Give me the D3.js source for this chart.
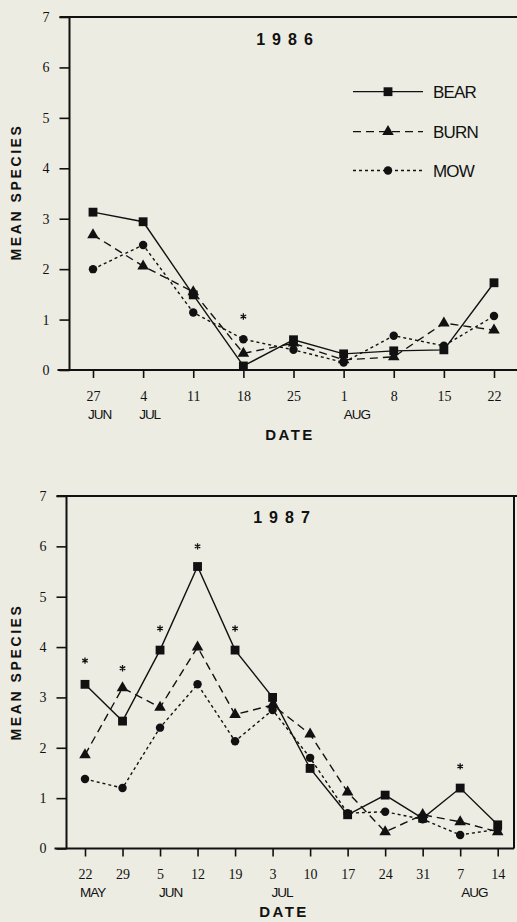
<!DOCTYPE html>
<html>
<head>
<meta charset="utf-8">
<script src="https://cdn.jsdelivr.net/npm/d3@7"></script>
<style>
  html, body { margin: 0; padding: 0; background: #ecece2; }
  svg { display: block; }
</style>
</head>
<body>
<svg id="chart" width="517" height="922"></svg>
<script>
// ---- Data ----
const yTicks = [0, 1, 2, 3, 4, 5, 6, 7];

const dates1986 = ["27", "4", "11", "18", "25", "1", "8", "15", "22"];
const bear1986 = [3.13, 2.94, 1.49, 0.08, 0.60, 0.32, 0.38, 0.40, 1.73];
const burn1986 = [2.68, 2.06, 1.55, 0.33, 0.53, 0.20, 0.26, 0.93, 0.79];
const mow1986  = [2.00, 2.48, 1.14, 0.61, 0.40, 0.15, 0.68, 0.48, 1.07];
const monthDates1986 = ["27", "4", "1"];
const monthNames1986 = ["JUN", "JUL", "AUG"];
const starDates1986 = ["18"];
const starValues1986 = [1.06];

const dates1987 = ["22", "29", "5", "12", "19", "3", "10", "17", "24", "31", "7", "14"];
const bear1987 = [3.26, 2.53, 3.94, 5.60, 3.94, 3.00, 1.59, 0.67, 1.06, 0.60, 1.20, 0.47];
const burn1987 = [1.86, 3.19, 2.80, 4.00, 2.66, 2.85, 2.27, 1.12, 0.33, 0.67, 0.53, 0.33];
const mow1987  = [1.38, 1.20, 2.40, 3.26, 2.13, 2.75, 1.80, 0.70, 0.73, 0.58, 0.27, 0.38];
const monthDates1987 = ["22", "5", "3", "7"];
const monthNames1987 = ["MAY", "JUN", "JUL", "AUG"];
const starDates1987 = ["22", "29", "5", "12", "19", "7"];
const starValues1987 = [3.73, 3.58, 4.37, 6.00, 4.37, 1.63];

const seriesNames = ["BEAR", "BURN", "MOW"];

// ---- Styles ----
const ink = "#111";
const seriesStyle = {
  BEAR: { dash: null, symbol: d3.symbolSquare, size: 78 },
  BURN: { dash: "8,5", symbol: d3.symbolTriangle, size: 58 },
  MOW:  { dash: "3,3", symbol: d3.symbolCircle, size: 56 }
};

// small six-armed asterisk path
function asteriskPath(r) {
  let s = "";
  for (let k = 0; k < 3; k++) {
    const a = Math.PI / 2 + k * Math.PI / 3;
    const dx = r * Math.cos(a), dy = r * Math.sin(a);
    s += `M${-dx},${-dy}L${dx},${dy}`;
  }
  return s;
}

const svg = d3.select("#chart");

function drawPanel(p) {
  const g = svg.append("g");
  const x = d3.scalePoint().domain(p.dates).range([p.x0, p.x1]);
  const y = d3.scaleLinear().domain([0, 7]).range([p.yBottom, p.yTop]);

  // frame
  g.append("line").attr("x1", p.axisX).attr("x2", p.axisX)
    .attr("y1", p.yTop).attr("y2", p.yBottom)
    .attr("stroke", ink).attr("stroke-width", 2);
  g.append("line").attr("x1", p.axisX - 10).attr("x2", 517)
    .attr("y1", p.yTop).attr("y2", p.yTop)
    .attr("stroke", ink).attr("stroke-width", 2);
  g.append("line").attr("x1", p.axisX - 12).attr("x2", p.rightX)
    .attr("y1", p.yBottom).attr("y2", p.yBottom)
    .attr("stroke", ink).attr("stroke-width", 2);
  if (p.rightBorder) {
    g.append("line").attr("x1", p.rightX).attr("x2", p.rightX)
      .attr("y1", p.yTop).attr("y2", p.yBottom)
      .attr("stroke", ink).attr("stroke-width", 2);
  }

  // y axis
  const yAxis = d3.axisLeft(y).tickValues(yTicks).tickSize(10).tickPadding(10)
    .tickFormat(d3.format("d"));
  const ya = g.append("g").attr("transform", `translate(${p.axisX},0)`).call(yAxis);
  ya.select(".domain").remove();
  ya.selectAll("line").attr("stroke", ink).attr("stroke-width", 1.6);
  ya.selectAll("text").attr("font-family", "Liberation Serif, Times New Roman, serif")
    .attr("font-size", 14).attr("fill", ink);

  // x axis
  const xAxis = d3.axisBottom(x).tickSize(8).tickPadding(13);
  const xa = g.append("g").attr("transform", `translate(0,${p.yBottom})`).call(xAxis);
  xa.select(".domain").remove();
  xa.selectAll("line").attr("stroke", ink).attr("stroke-width", 1.6);
  xa.selectAll("text").attr("font-family", "Liberation Serif, Times New Roman, serif")
    .attr("font-size", 14).attr("fill", ink);

  // month labels
  g.selectAll(".month").data(p.monthDates).enter().append("text")
    .attr("x", (d, i) => x(d) + p.monthOffsets[i])
    .attr("y", p.yBottom + 48.5)
    .attr("font-family", "Liberation Sans, Arial, sans-serif")
    .attr("font-size", 13.5).attr("letter-spacing", -1).attr("fill", ink)
    .text((d, i) => p.monthNames[i]);

  // axis titles
  g.append("text").attr("x", p.dateX).attr("y", p.dateY)
    .attr("text-anchor", "middle")
    .attr("font-family", "Liberation Sans, Arial, sans-serif")
    .attr("font-weight", "bold").attr("font-size", 15).attr("letter-spacing", 2.5)
    .attr("fill", ink).text("DATE");
  g.append("text")
    .attr("transform", `translate(21,${p.yLabelY}) rotate(-90)`)
    .attr("text-anchor", "middle")
    .attr("font-family", "Liberation Sans, Arial, sans-serif")
    .attr("font-weight", "bold").attr("font-size", 14).attr("letter-spacing", 2.6)
    .attr("fill", ink).text("MEAN SPECIES");

  // title
  g.append("text").attr("x", p.titleX).attr("y", p.titleY)
    .attr("text-anchor", "middle")
    .attr("font-family", "Liberation Sans, Arial, sans-serif")
    .attr("font-weight", "bold").attr("font-size", 16).attr("letter-spacing", 7)
    .attr("fill", ink).text(p.title);

  // series lines
  const line = d3.line().x(d => x(d.date)).y(d => y(d.value));
  seriesNames.forEach((name, si) => {
    const vals = p.series[si];
    const data = p.dates.map((d, i) => ({ date: d, value: vals[i] }));
    const st = seriesStyle[name];
    g.append("path").datum(data).attr("d", line)
      .attr("fill", "none").attr("stroke", ink).attr("stroke-width", 1.4)
      .attr("stroke-dasharray", st.dash);
    g.selectAll(".m" + name).data(data).enter().append("path")
      .attr("d", d3.symbol().type(st.symbol).size(st.size))
      .attr("transform", d => `translate(${x(d.date)},${y(d.value)})`)
      .attr("fill", ink);
  });

  // significance asterisks
  g.selectAll(".star").data(p.starDates).enter().append("path")
    .attr("d", asteriskPath(3.2))
    .attr("transform", (d, i) => `translate(${x(d)},${y(p.starValues[i])})`)
    .attr("fill", "none").attr("stroke", ink).attr("stroke-width", 1.3);

  // legend
  if (p.legend) {
    const rows = [91.7, 131.7, 170.5];
    seriesNames.forEach((name, i) => {
      const st = seriesStyle[name];
      g.append("line").attr("x1", 353).attr("x2", 423)
        .attr("y1", rows[i]).attr("y2", rows[i])
        .attr("stroke", ink).attr("stroke-width", 1.3).attr("stroke-dasharray", st.dash);
      g.append("path").attr("d", d3.symbol().type(st.symbol).size(st.size))
        .attr("transform", `translate(388,${rows[i]})`).attr("fill", ink);
      g.append("text").attr("x", 433).attr("y", rows[i] + 6)
        .attr("font-family", "Liberation Sans, Arial, sans-serif")
        .attr("font-size", 17).attr("letter-spacing", -0.8).attr("fill", ink)
        .text(name);
    });
  }
}

drawPanel({
  title: "1986", titleX: 288, titleY: 45,
  dates: dates1986, x0: 93, x1: 494,
  yTop: 17, yBottom: 370, axisX: 69.5, rightX: 517, rightBorder: false,
  series: [bear1986, burn1986, mow1986],
  monthDates: monthDates1986, monthNames: monthNames1986, monthOffsets: [-5, -4, 0],
  starDates: starDates1986, starValues: starValues1986,
  dateX: 290, dateY: 440, yLabelY: 192, legend: true
});

drawPanel({
  title: "1987", titleX: 285, titleY: 523,
  dates: dates1987, x0: 85, x1: 497.7,
  yTop: 496, yBottom: 848.5, axisX: 66.5, rightX: 514, rightBorder: true,
  series: [bear1987, burn1987, mow1987],
  monthDates: monthDates1987, monthNames: monthNames1987, monthOffsets: [-5, -1, -1, 1],
  starDates: starDates1987, starValues: starValues1987,
  dateX: 284, dateY: 917, yLabelY: 672, legend: false
});
</script>
</body>
</html>
